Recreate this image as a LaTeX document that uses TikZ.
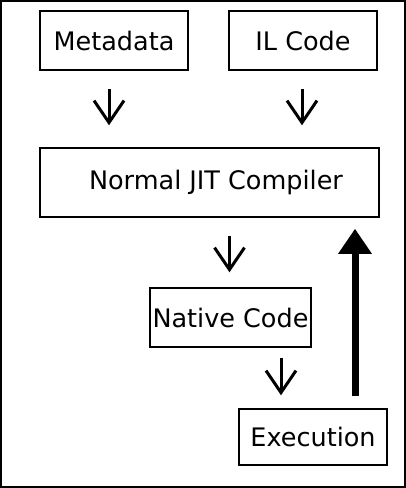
\documentclass[tikz,border=0pt]{standalone}
\usepackage{fontspec}
\setmainfont{DejaVu Sans}
\usetikzlibrary{positioning, arrows.meta, shapes}

\begin{document}
\begin{tikzpicture}[x=1pt, y=-1pt,
    box/.style={draw, line width=1.5pt, inner sep=1pt, font=\fontsize{25.5}{30}\selectfont},
    thinarr/.style={line width=3pt, -{Straight Barb[length=22pt, width=30pt, line width=3pt]}},
    thickarr/.style={line width=7pt, -{Triangle[length=25pt, width=32pt]}}]
            \useasboundingbox (0,0) rectangle (406,488);
            \draw[line width=2pt] (1,1) rectangle (404.5,486.5);
            \node[box, minimum width=148pt, minimum height=59pt] (meta) at (114,40.5) {Metadata};
            \node[box, minimum width=148pt, minimum height=59pt] (il) at (303,40.5) {IL Code};
            \node[box, minimum width=339pt, minimum height=69pt] (jit) at (209.5,182.5) {\hspace{13pt}Normal JIT Compiler};
            \node[box, minimum width=161pt, minimum height=59pt] (native) at (230.5,317.5) {Native Code};
            \node[box, minimum width=148pt, minimum height=56pt] (exec) at (313,437) {Execution};
            \draw[thinarr, shorten <=18pt, shorten >=22pt] ([xshift=-5pt]meta.south) -- ([xshift=-5pt]meta.south |- jit.north);
            \draw[thinarr, shorten <=18pt, shorten >=22pt] ([xshift=-1pt]il.south) -- ([xshift=-1pt]il.south |- jit.north);
            \draw[thinarr, shorten <=18pt, shorten >=15pt] ([xshift=-1pt]native.north |- jit.south) -- ([xshift=-1pt]native.north);
            \draw[thinarr, shorten <=10pt, shorten >=13pt] ([xshift=-32pt]exec.north |- native.south) -- ([xshift=-32pt]exec.north);
            \draw[thickarr, shorten <=12pt, shorten >=11pt] ([xshift=42pt]exec.north) -- ([xshift=42pt]exec.north |- jit.south);
        \end{tikzpicture}
\end{document}
